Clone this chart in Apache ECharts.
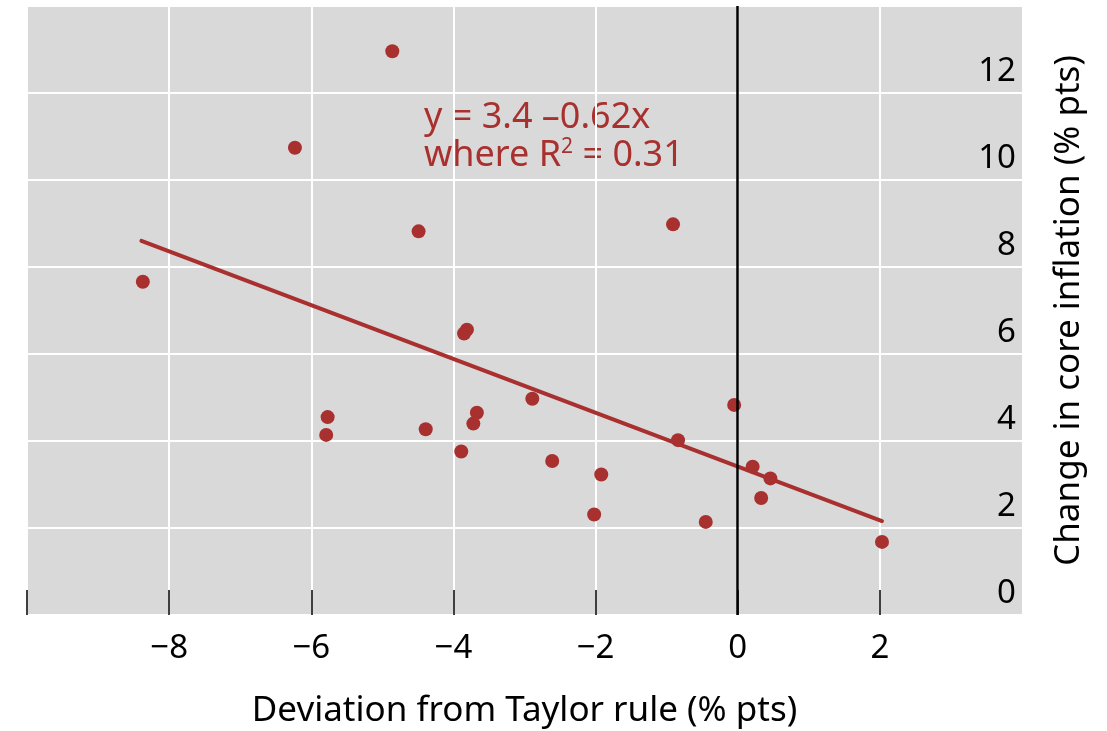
<!DOCTYPE html>
<html>
<head>
<meta charset="utf-8">
<script src="https://cdn.jsdelivr.net/npm/echarts@6/dist/echarts.min.js"></script>
<style>
  html, body { margin: 0; padding: 0; background: #fff; }
  #chart { width: 1107px; height: 731px; }
</style>
</head>
<body>
<div id="chart"></div>
<script>
// deviation from Taylor rule (x) and change in core inflation (y)
const devX = [-4.86, -6.23, -4.49, -8.37, -0.91, -3.81, -3.85, -2.89, -0.05, -3.67, -3.72, -5.77,
  -5.79, -4.39, -0.84, -3.89, -2.61, -1.92, 0.21, 0.46, 0.33, -2.02, -0.45, 2.03]
const inflY = [12.96, 10.74, 8.82, 7.66, 8.98, 6.56, 6.47, 4.97, 4.83, 4.65, 4.40, 4.55,
  4.14, 4.27, 4.02, 3.76, 3.54, 3.23, 3.41, 3.14, 2.69, 2.31, 2.14, 1.68]
// fitted line end points
const fitX = [-8.39, 2.03]
const fitY = [8.60, 2.16]
const xTicks = [-10, -8, -6, -4, -2, 0, 2]
const xLabels = [-8, -6, -4, -2, 0, 2]

const red = '#a8302f'
const font = 'Noto Sans'

const chart = echarts.init(document.getElementById('chart'))
chart.setOption({
  backgroundColor: '#fff',
  animation: false,
  grid: {
    left: 27,
    right: 85,
    top: 6,
    bottom: 116,
    outerBoundsMode: 'none', // keep the plot box where it is
    show: true,
    backgroundColor: '#d9d9d9',
    borderWidth: 0
  },
  xAxis: {
    type: 'value',
    min: -10,
    max: 4,
    interval: 2,
    name: 'Deviation from Taylor rule (% pts)',
    nameLocation: 'middle',
    nameGap: 79,
    nameTextStyle: { fontFamily: font, fontSize: 35, color: '#000' },
    axisLine: { show: false },
    axisTick: {
      show: true,
      inside: true,
      length: 25,
      customValues: xTicks,
      lineStyle: { color: '#000', width: 1.5 }
    },
    axisLabel: {
      customValues: xLabels,
      margin: 17,
      fontFamily: font,
      fontSize: 33,
      color: '#000',
      formatter: v => (v < 0 ? '\u2212' + Math.abs(v) : String(v))
    },
    splitLine: { show: true, lineStyle: { color: '#fff', width: 2 } }
  },
  yAxis: {
    type: 'value',
    position: 'right',
    min: 0,
    max: 14,
    interval: 2,
    name: 'Change in core inflation (% pts)',
    nameLocation: 'middle',
    nameGap: 30,
    nameTextStyle: { fontFamily: font, fontSize: 35, color: '#000' },
    axisLine: { show: false },
    axisTick: { show: false },
    axisLabel: {
      inside: true,
      margin: 6,
      align: 'right',
      verticalAlign: 'bottom',
      padding: [0, 0, 5, 0],
      fontFamily: font,
      fontSize: 33,
      color: '#000',
      formatter: v => (v === 14 ? '' : String(v))
    },
    splitLine: { show: true, lineStyle: { color: '#fff', width: 2 } }
  },
  series: [{
    // zero line
    type: 'line',
    data: [],
    markLine: {
      silent: true,
      symbol: 'none',
      label: { show: false },
      lineStyle: { color: '#000', width: 2.5, type: 'solid' },
      data: [{ xAxis: 0 }]
    }
  }, {
    type: 'line',
    data: fitX.map((x, i) => [x, fitY[i]]),
    symbol: 'none',
    lineStyle: { color: red, width: 4, cap: 'round' },
    z: 3
  }, {
    type: 'scatter',
    data: devX.map((x, i) => [x, inflY[i]]),
    symbolSize: 14,
    itemStyle: { color: red, opacity: 1 },
    z: 4
  }],
  graphic: [{
    type: 'text',
    left: 424,
    top: 99,
    style: {
      text: 'y = 3.4 \u20130.62x\n{n|where R}{s|2}{n| = 0.31}',
      fontFamily: font,
      fontSize: 36,
      lineHeight: 38,
      fill: red,
      rich: {
        n: { fontFamily: font, fontSize: 36, lineHeight: 38, color: red },
        s: { fontFamily: font, fontSize: 21, lineHeight: 34, color: red, verticalAlign: 'top' }
      }
    }
  }]
})
</script>
</body>
</html>
